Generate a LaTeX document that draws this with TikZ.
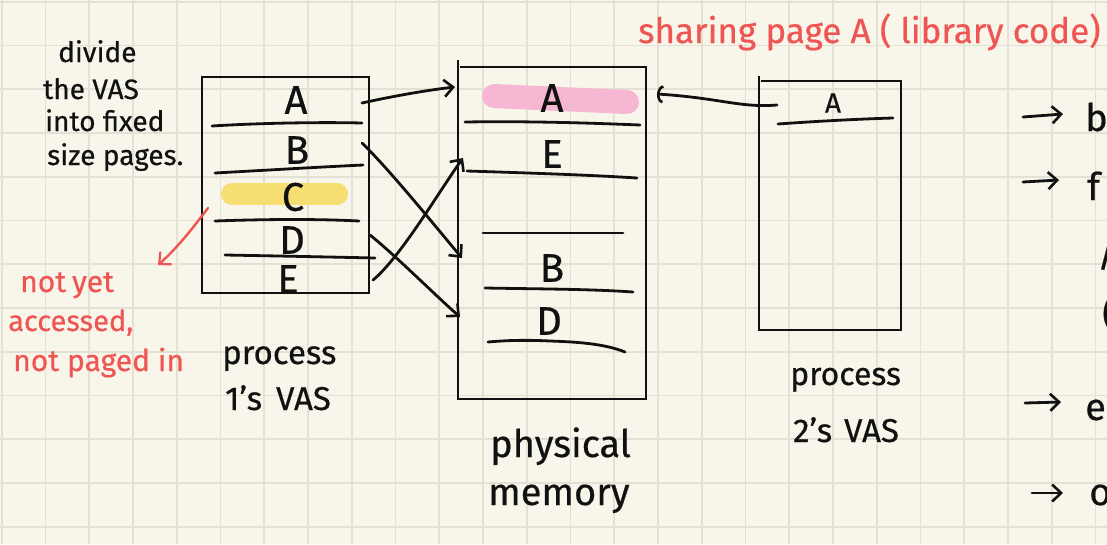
\documentclass[tikz,border=0pt]{standalone}
\usepackage{fontspec}
\setmainfont{Fira Sans}[FakeBold=0.5]
\usetikzlibrary{arrows.meta}

\definecolor{paper}{HTML}{F8F6EA}
\definecolor{gridline}{HTML}{E3E1D3}
\definecolor{ink}{HTML}{111111}
\definecolor{redink}{HTML}{EF5552}
\definecolor{hiyellow}{HTML}{F6DE72}
\definecolor{hipink}{HTML}{F5B7D2}

\begin{document}
\begin{tikzpicture}[x=1pt,y=-1pt,
  pen/.style={draw=ink,line width=2.8pt,line cap=round,line join=round},
  boxline/.style={draw=ink,line width=2pt},
  arr/.style={pen,-{Straight Barb[length=9pt,width=17pt,line width=2.6pt]}},
  hookarr/.style={pen,-{Arc Barb[length=6pt,width=18pt,line width=2.6pt]}},
  redarr/.style={draw=redink,line width=2.4pt,line cap=round,
    -{Straight Barb[length=9pt,width=17pt,line width=2.2pt]}},
  pagelbl/.style={inner sep=0,text=ink,font=\fontsize{40}{40}\selectfont},
  smalllbl/.style={inner sep=0,text=ink,font=\fontsize{28}{28}\selectfont},
  note/.style={inner sep=0,anchor=base west,text=ink},
  rednote/.style={inner sep=0,anchor=base west,text=redink},
]
\useasboundingbox (0,0) rectangle (1107,544);
\clip (0,0) rectangle (1107,544);

% squared paper
\fill[paper] (0,0) rectangle (1107,544);
\foreach \i in {0,...,25}
  \draw[gridline,line width=1.8pt] (1.7+43.75*\i,0) -- (1.7+43.75*\i,544);
\foreach \j in {0,...,12}
  \draw[gridline,line width=1.8pt] (0,1.7+43.75*\j) -- (1107,1.7+43.75*\j);

% highlighter strokes
\draw[hiyellow,line width=22pt,line cap=round] (232,194) -- (337,194);
\draw[hipink,line width=24pt,line cap=round] (494,96) -- (627,102);

% process 1's VAS
\draw[boxline] (202,77) rectangle (369,293);
\draw[pen] (212,126) .. controls (260,123) and (320,122) .. (362,123);
\draw[pen] (215,173) .. controls (270,170) and (320,167) .. (363,165);
\draw[pen] (215,221) .. controls (270,219) and (320,219) .. (359,221);
\draw[pen] (225,255) .. controls (280,256) and (330,257) .. (375,258);
\node[pagelbl] (A1) at (296,100) {A};
\node[pagelbl] (B1) at (297,150) {B};
\node[pagelbl] (C1) at (293,197) {C};
\node[pagelbl] (D1) at (292,240) {D};
\node[pagelbl] (E1) at (288,279) {E};

% physical memory
\draw[boxline] (458,60) -- (458,399) -- (646,399) -- (646,67) -- (460,67);
\draw[pen] (465,122) .. controls (530,121) and (590,123) .. (640,125);
\draw[pen] (467,171) .. controls (530,173) and (590,175) .. (637,178);
\draw[pen] (483,233) -- (623,233);
\draw[pen] (485,288) .. controls (540,289) and (590,289) .. (633,292);
\draw[pen] (488,342) .. controls (510,340) and (530,340) .. (550,341)
  .. controls (580,342) and (605,344) .. (625,352);
\node[pagelbl] (A2) at (552,98) {A};
\node[pagelbl] (E2) at (552,154) {E};
\node[pagelbl] (B2) at (552,268) {B};
\node[pagelbl] (D2) at (549,321) {D};

% process 2's VAS
\draw[boxline] (759,76) -- (759,330) -- (901,330) -- (901,81) -- (761,81);
\draw[pen] (778,124) .. controls (820,121) and (860,119) .. (893,118);
\node[smalllbl] (A3) at (833,103) {A};

% page mappings
\draw[arr] ([shift={(66,3)}]A1.center) .. controls (385,98) and (420,91)
  .. ([shift={(-97,-11)}]A2.center);
\draw[arr] ([shift={(65,-7)}]B1.center) .. controls (390,170) and (440,232)
  .. ([shift={(-90,-10)}]B2.center);
\draw[arr] ([shift={(78,-5)}]D1.center) .. controls (395,255) and (435,295)
  .. ([shift={(-89,-4)}]D2.center);
\draw[arr] ([shift={(85,1)}]E1.center) .. controls (400,258) and (440,190)
  .. ([shift={(-89,4)}]E2.center);
\draw[hookarr] ([shift={(-56,2)}]A3.center) .. controls (740,108) and (720,98)
  .. ([shift={(105,-4)}]A2.center);

% captions
\node[note,font=\fontsize{28}{28}\selectfont] (dv1) at (58,62) {divide};
\node[note,font=\fontsize{28}{28}\selectfont] (dv2) at (43,99) {the VAS};
\node[note,font=\fontsize{28}{28}\selectfont] (dv3) at (45,131) {into fixed};
\node[note,font=\fontsize{28}{28}\selectfont] (dv4) at (47,165) {size pages.};

\node[note,font=\fontsize{33}{33}\selectfont] (p1a) at (222,364) {process};
\node[note,font=\fontsize{33}{33}\selectfont] (p1b) at (225,410) {1's\hspace{14pt}VAS};

\node[note,font=\fontsize{38}{38}\selectfont] (pm1) at (490,457) {physical};
\node[note,font=\fontsize{38}{38}\selectfont] (pm2) at (488,505) {memory};

\node[note,font=\fontsize{32}{32}\selectfont] (p2a) at (790,385) {process};
\node[note,font=\fontsize{33}{33}\selectfont] (p2b) at (793,442) {2's\hspace{12pt}VAS};

% red annotations
\node[rednote,font=\fontsize{35}{35}\selectfont] (shr) at (638,43)
  {sharing page A ( library code)};
\node[rednote,font=\fontsize{30}{30}\selectfont] (ny1) at (20,292) {not\hspace{6pt}yet};
\node[rednote,font=\fontsize{29}{29}\selectfont] (ny2) at (8,331) {accessed,};
\node[rednote,font=\fontsize{30}{30}\selectfont] (ny3) at (13,371) {not paged in};
\draw[redarr] ([shift={(-85,11)}]C1.center) .. controls (190,232) and (175,250)
  .. ([shift={(138,-27)}]ny1.base west);

% list running off the right edge
\node[note,font=\fontsize{38}{38}\selectfont] (r1) at (1085,131) {b};
\node[note,font=\fontsize{38}{38}\selectfont] (r2) at (1087,200) {f};
\node[note,font=\fontsize{38}{38}\selectfont] (r3) at (1097,266) {/};
\node[note,font=\fontsize{38}{38}\selectfont] (r4) at (1102,327) {(};
\node[note,font=\fontsize{38}{38}\selectfont] (r5) at (1085,420) {e};
\node[note,font=\fontsize{38}{38}\selectfont] (r6) at (1089,505) {o};
\draw[arr] ([shift={(-62,-14)}]r1.base west) -- ([shift={(-22,-17)}]r1.base west);
\draw[arr] ([shift={(-64,-18)}]r2.base west) -- ([shift={(-28,-20)}]r2.base west);
\draw[arr] ([shift={(-60,-17)}]r5.base west) -- ([shift={(-24,-18)}]r5.base west);
\draw[arr] ([shift={(-57,-12)}]r6.base west) -- ([shift={(-26,-12)}]r6.base west);
\end{tikzpicture}
\end{document}
